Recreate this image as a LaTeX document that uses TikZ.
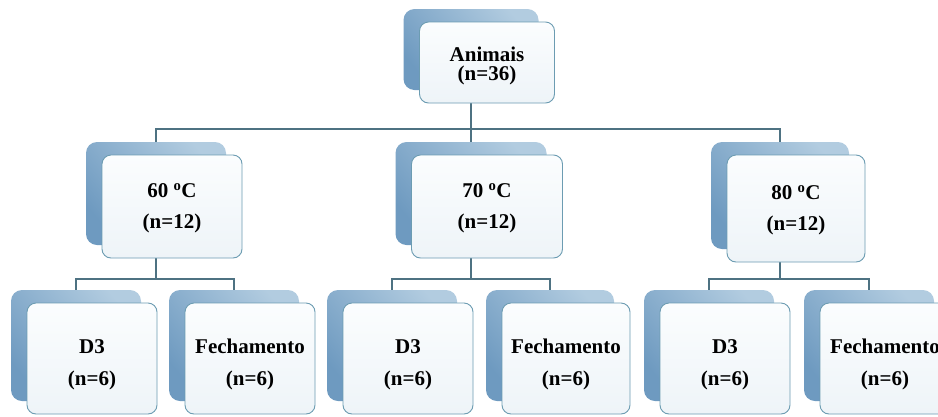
\documentclass[tikz,border=0pt]{standalone}
\usepackage{fontspec}
\setmainfont{Liberation Serif}

\pgfdeclarelayer{ground}
\pgfdeclarelayer{shade}
\pgfdeclarelayer{links}
\pgfsetlayers{ground,shade,links,main}

\definecolor{linkcol}{HTML}{4E7282}
\definecolor{edgecol}{HTML}{6C9CB2}
\definecolor{paperA}{HTML}{FBFDFE}
\definecolor{paperB}{HTML}{EEF4F8}
\definecolor{shadeA}{HTML}{6E9AC0}
\definecolor{shadeB}{HTML}{B2CCE0}

\tikzset{
  frontbox/.style={draw=edgecol, line width=0.9pt, rounded corners=9pt,
    top color=paperA, bottom color=paperB, inner sep=0pt},
  backbox/.style={rounded corners=11pt, inner sep=0pt, draw=none,
    top color=shadeB, bottom color=shadeA, shading angle=-50},
  boxtext/.style={align=center, inner sep=0pt},
  link/.style={draw=linkcol, line width=1.2pt},
}

% #1 name, #2 x, #3 y (centre of the front card), #4 width, #5 height,
% #6 text shift, #7 baseline skip, #8 text
\newcommand\orgbox[8]{%
  \begin{pgfonlayer}{shade}
    \node[backbox, minimum width=#4pt, minimum height=#5pt] (#1-s) at (#2-16,#3-13) {};
  \end{pgfonlayer}
  \node[frontbox, minimum width=#4pt, minimum height=#5pt] (#1) at (#2,#3) {};
  \node[boxtext, font=\bfseries\fontsize{21}{#7}\selectfont] (#1-t) at (#2,#3+#6) {#8};
}

\begin{document}
\begin{tikzpicture}[x=1pt, y=-1pt]
  \begin{pgfonlayer}{ground}
    \fill[white] (0,0) rectangle (938,416);
  \end{pgfonlayer}
  \useasboundingbox (0,0) rectangle (938,416);

  % root
  \orgbox{root}{487}{62.5}{135}{81}{3}{19}{Animais\\(n=36)}

  % temperatures
  \orgbox{c60}{172}{206.5}{140}{103}{2}{31}{60 \textsuperscript{o}C\\(n=12)}
  \orgbox{c70}{487}{206.5}{151}{103}{2}{31}{70 \textsuperscript{o}C\\(n=12)}
  \orgbox{c80}{796}{208.5}{138}{107}{2}{31}{80 \textsuperscript{o}C\\(n=12)}

  % groups
  \orgbox{d60}{92}{358.5}{130}{111}{6}{32}{D3\\(n=6)}
  \orgbox{f60}{250}{358.5}{130}{111}{6}{32}{Fechamento\\(n=6)}
  \orgbox{d70}{408}{358.5}{130}{111}{6}{32}{D3\\(n=6)}
  \orgbox{f70}{566}{358.5}{128}{111}{6}{32}{Fechamento\\(n=6)}
  \orgbox{d80}{725}{358.5}{130}{111}{6}{32}{D3\\(n=6)}
  \orgbox{f80}{885}{358.5}{130}{111}{6}{32}{Fechamento\\(n=6)}

  % connectors
  \coordinate (bus0) at (0,129);
  \coordinate (bus1) at (0,279);
  \begin{pgfonlayer}{links}
    \draw[link] (root-s.south) -- (root-s.south |- bus0) -| (c60-s.north);
    \draw[link] (root-s.south |- bus0) -| (c70-s.north);
    \draw[link] (root-s.south |- bus0) -| (c80-s.north);

    \draw[link] (c60-s.south) -- (c60-s.south |- bus1) -| (d60-s.north);
    \draw[link] (c60-s.south |- bus1) -| (f60-s.north);
    \draw[link] (c70-s.south) -- (c70-s.south |- bus1) -| (d70-s.north);
    \draw[link] (c70-s.south |- bus1) -| (f70-s.north);
    \draw[link] (c80-s.south) -- (c80-s.south |- bus1) -| (d80-s.north);
    \draw[link] (c80-s.south |- bus1) -| (f80-s.north);
  \end{pgfonlayer}
\end{tikzpicture}
\end{document}
